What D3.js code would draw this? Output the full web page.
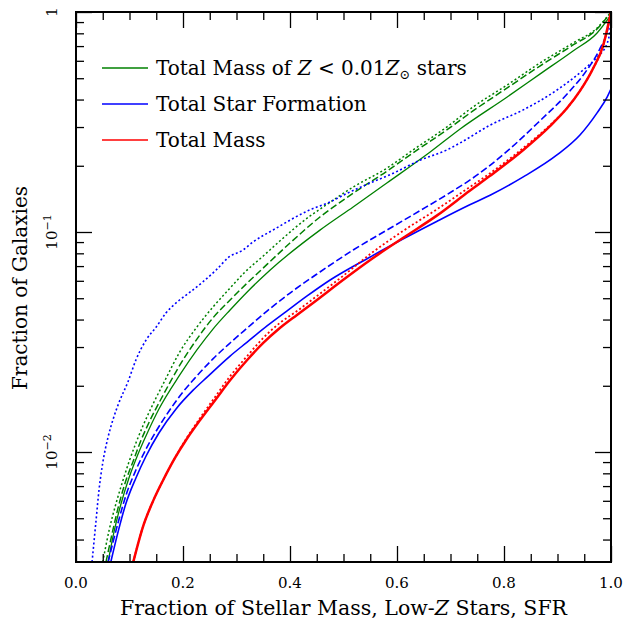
<!DOCTYPE html>
<html>
<head>
<meta charset="utf-8">
<script src="https://cdn.jsdelivr.net/npm/d3@7"></script>
<style>
    body { margin: 0; background: #fff; }
    svg { display: block; font-family: "DejaVu Serif", serif; }
</style>
</head>
<body>
<svg width="626" height="621"></svg>
<script>
// ---------- data: [fraction, fraction of galaxies] ----------
const lowZSolid = [[0.060,0.00316],[0.071,0.00433],[0.084,0.00580],[0.099,0.00762],[0.116,0.00979],[0.135,0.01246],[0.155,0.01568],[0.194,0.0224],[0.226,0.0291],[0.256,0.0362],[0.288,0.0442],[0.320,0.0534],[0.363,0.0672],[0.456,0.102],[0.518,0.130],[0.581,0.167],[0.662,0.231],[0.718,0.294],[0.806,0.411],[0.867,0.522],[0.929,0.665],[0.974,0.803],[1,0.97]];
const lowZDashed = [[0.056,0.00316],[0.069,0.00442],[0.080,0.00574],[0.093,0.00738],[0.107,0.0091],[0.121,0.01122],[0.136,0.01355],[0.163,0.01816],[0.194,0.0248],[0.226,0.0326],[0.256,0.0407],[0.288,0.0491],[0.320,0.0586],[0.344,0.0665],[0.400,0.0891],[0.456,0.117],[0.518,0.150],[0.581,0.189],[0.630,0.229],[0.693,0.291],[0.742,0.355],[0.806,0.452],[0.867,0.568],[0.929,0.708],[0.974,0.837],[1,1]];
const lowZDotted = [[0.050,0.00316],[0.062,0.00442],[0.075,0.00586],[0.088,0.00746],[0.099,0.00901],[0.112,0.01099],[0.125,0.01312],[0.144,0.01652],[0.163,0.0204],[0.194,0.0285],[0.226,0.0370],[0.256,0.0456],[0.288,0.0556],[0.316,0.0658],[0.350,0.0778],[0.381,0.0910],[0.437,0.118],[0.456,0.127],[0.518,0.160],[0.581,0.195],[0.630,0.236],[0.693,0.300],[0.742,0.370],[0.806,0.466],[0.867,0.586],[0.929,0.723],[0.974,0.846],[1,1]];

const sfrSolid = [[0.065,0.00316],[0.079,0.00437],[0.093,0.00580],[0.112,0.00762],[0.131,0.00959],[0.155,0.0122],[0.187,0.0157],[0.219,0.0191],[0.245,0.0219],[0.288,0.0273],[0.320,0.0316],[0.357,0.0374],[0.394,0.0437],[0.432,0.0512],[0.475,0.0605],[0.550,0.0770],[0.611,0.0929],[0.675,0.112],[0.736,0.133],[0.774,0.147],[0.836,0.178],[0.899,0.224],[0.942,0.276],[0.974,0.348],[0.993,0.411],[1,0.447]];
const sfrDashed = [[0.060,0.00316],[0.079,0.00481],[0.093,0.00631],[0.112,0.00828],[0.131,0.01032],[0.150,0.01246],[0.174,0.01536],[0.200,0.01875],[0.221,0.0215],[0.256,0.0265],[0.288,0.0313],[0.320,0.0366],[0.357,0.0437],[0.400,0.0528],[0.456,0.0658],[0.518,0.0828],[0.581,0.102],[0.643,0.125],[0.705,0.154],[0.736,0.172],[0.806,0.233],[0.867,0.320],[0.918,0.424],[0.955,0.545],[0.979,0.679],[0.994,0.837],[1,1]];
const sfrDotted = [[0.030,0.00316],[0.037,0.00475],[0.043,0.00672],[0.050,0.00892],[0.060,0.0117],[0.069,0.0140],[0.080,0.0167],[0.097,0.0208],[0.112,0.0262],[0.131,0.0323],[0.150,0.0370],[0.168,0.0428],[0.187,0.0476],[0.211,0.0528],[0.237,0.0593],[0.262,0.0672],[0.286,0.0770],[0.312,0.0828],[0.331,0.0901],[0.368,0.102],[0.437,0.126],[0.475,0.137],[0.507,0.150],[0.550,0.167],[0.593,0.185],[0.643,0.212],[0.693,0.236],[0.718,0.254],[0.774,0.306],[0.836,0.359],[0.899,0.442],[0.948,0.545],[0.974,0.624],[0.993,0.723],[0.998,0.829],[1,1]];

const massSolid = [[0.107,0.00316],[0.125,0.00456],[0.144,0.00598],[0.163,0.00746],[0.185,0.0094],[0.207,0.01146],[0.232,0.01397],[0.260,0.0172],[0.288,0.0212],[0.320,0.0262],[0.350,0.0313],[0.381,0.0366],[0.413,0.0420],[0.443,0.0476],[0.499,0.0605],[0.550,0.0746],[0.611,0.0939],[0.675,0.119],[0.736,0.154],[0.774,0.180],[0.836,0.236],[0.886,0.303],[0.918,0.366],[0.942,0.438],[0.966,0.551],[0.985,0.700],[1,1]];
const massDotted = [[0.107,0.00316],[0.125,0.00456],[0.144,0.00598],[0.163,0.00746],[0.185,0.0094],[0.207,0.01159],[0.232,0.01428],[0.260,0.0178],[0.288,0.0221],[0.320,0.0273],[0.350,0.0330],[0.381,0.0386],[0.413,0.0437],[0.443,0.0496],[0.499,0.0631],[0.550,0.0794],[0.611,0.101],[0.675,0.127],[0.736,0.160],[0.774,0.185],[0.836,0.241],[0.886,0.306],[0.918,0.366],[0.942,0.438],[0.966,0.551],[0.985,0.700],[1,1]];

const legendLabels = ["Total Mass of Z < 0.01Z stars", "Total Star Formation", "Total Mass"];
const seriesColors = ["#008000", "#0000ff", "#ff0000"];
const xTickLabels = ["0.0", "0.2", "0.4", "0.6", "0.8", "1.0"];
const yLabel = "Fraction of Galaxies";

// кривые: данные, цвет, тип линии, толщина
const curves = [
    {data: lowZDotted, color: seriesColors[0], style: "dotted", width: 1.5},
    {data: lowZDashed, color: seriesColors[0], style: "dashed", width: 1.5},
    {data: lowZSolid,  color: seriesColors[0], style: "solid",  width: 1.3},
    {data: sfrDotted,  color: seriesColors[1], style: "dotted", width: 1.6},
    {data: sfrDashed,  color: seriesColors[1], style: "dashed", width: 1.6},
    {data: sfrSolid,   color: seriesColors[1], style: "solid",  width: 1.6},
    {data: massDotted, color: seriesColors[2], style: "dotted", width: 1.8},
    {data: massSolid,  color: seriesColors[2], style: "solid",  width: 2.5}
];
const dashes = {solid: null, dashed: "7,3", dotted: "2,2.4"};

const svg = d3.select("svg");
const area = {left: 76, right: 611, top: 12, bottom: 562};

const scX = d3.scaleLinear().domain([0, 1]).range([area.left, area.right]);
const scY = d3.scaleLog().domain([Math.pow(10, -2.5), 1]).range([area.bottom, area.top]);

svg.append("clipPath").attr("id", "clip")
    .append("rect")
    .attr("x", area.left).attr("y", area.top)
    .attr("width", area.right - area.left).attr("height", area.bottom - area.top);

// рисуем кривые
const line = d3.line()
    .x(d => scX(d[0]))
    .y(d => scY(d[1]))
    .curve(d3.curveMonotoneX);

svg.append("g").attr("clip-path", "url(#clip)")
    .selectAll("path")
    .data(curves)
    .enter()
    .append("path")
    .attr("d", d => line(d.data))
    .attr("fill", "none")
    .attr("stroke", d => d.color)
    .attr("stroke-width", d => d.width)
    .attr("stroke-dasharray", d => dashes[d.style]);

// оси: тики внутрь со всех четырёх сторон
const majorX = scX.ticks(5);
const minorX = scX.ticks(20).filter(t => !majorX.some(m => Math.abs(m - t) < 1e-9));
const allY = scY.ticks();
const isMajorY = t => Math.abs(Math.log10(t) - Math.round(Math.log10(t))) < 1e-9;
const majorY = allY.filter(isMajorY);
const minorY = allY.filter(t => !isMajorY(t));

function drawAxis(axisFn, scale, values, size, transform) {
    const g = svg.append("g")
        .attr("transform", transform)
        .call(axisFn(scale).tickValues(values).tickSize(size).tickSizeOuter(0).tickFormat(""));
    g.select(".domain").remove();
    g.selectAll(".tick line").attr("stroke", "#000").attr("stroke-width", 1.3);
}

drawAxis(d3.axisBottom, scX, majorX, -16, `translate(0,${area.bottom})`);
drawAxis(d3.axisBottom, scX, minorX, -8, `translate(0,${area.bottom})`);
drawAxis(d3.axisTop, scX, majorX, -16, `translate(0,${area.top})`);
drawAxis(d3.axisTop, scX, minorX, -8, `translate(0,${area.top})`);
drawAxis(d3.axisLeft, scY, majorY, -16, `translate(${area.left},0)`);
drawAxis(d3.axisLeft, scY, minorY, -8, `translate(${area.left},0)`);
drawAxis(d3.axisRight, scY, majorY, -16, `translate(${area.right},0)`);
drawAxis(d3.axisRight, scY, minorY, -8, `translate(${area.right},0)`);

svg.append("rect")
    .attr("x", area.left).attr("y", area.top)
    .attr("width", area.right - area.left).attr("height", area.bottom - area.top)
    .attr("fill", "none").attr("stroke", "#000").attr("stroke-width", 2);

// подписи тиков
svg.selectAll(".xlab")
    .data(majorX)
    .enter()
    .append("text")
    .attr("x", d => scX(d))
    .attr("y", 588)
    .attr("text-anchor", "middle")
    .style("font-size", "15px")
    .text((d, i) => xTickLabels[i]);

majorY.forEach(t => {
    const e = Math.round(Math.log10(t));
    const txt = svg.append("text")
        .attr("transform", `translate(57,${scY(t)}) rotate(-90)`)
        .attr("text-anchor", "middle")
        .style("font-size", "15px");
    if (e === 0) {
        txt.text("1");
    } else {
        txt.append("tspan").text("10");
        txt.append("tspan").attr("dy", -6).style("font-size", "11px").text("\u2212" + (-e));
    }
});

// подписи осей
const xl = svg.append("text")
    .attr("x", (area.left + area.right) / 2)
    .attr("y", 615)
    .attr("text-anchor", "middle")
    .style("font-size", "20.5px");
xl.append("tspan").text("Fraction of Stellar Mass, Low-");
xl.append("tspan").style("font-style", "italic").text("Z");
xl.append("tspan").text(" Stars, SFR");

svg.append("text")
    .attr("transform", `translate(27,${(area.top + area.bottom) / 2 + 1}) rotate(-90)`)
    .attr("text-anchor", "middle")
    .style("font-size", "20px")
    .text(yLabel);

// легенда
const legend = svg.append("g");
const rowY = [68, 104, 140];
legendLabels.forEach((lab, i) => {
    legend.append("line")
        .attr("x1", 102).attr("x2", 148)
        .attr("y1", rowY[i]).attr("y2", rowY[i])
        .attr("stroke", seriesColors[i]).attr("stroke-width", 1.6);
    const t = legend.append("text")
        .attr("x", 156).attr("y", rowY[i] + 7)
        .style("font-size", "20px");
    if (i === 0) {
        t.append("tspan").text("Total Mass of ");
        t.append("tspan").style("font-style", "italic").text("Z");
        t.append("tspan").text(" < 0.01");
        t.append("tspan").style("font-style", "italic").text("Z");
        t.append("tspan").attr("dy", 4).style("font-size", "13px").text("\u2299");
        t.append("tspan").attr("dy", -4).text(" stars");
    } else {
        t.text(lab);
    }
});
</script>
</body>
</html>
